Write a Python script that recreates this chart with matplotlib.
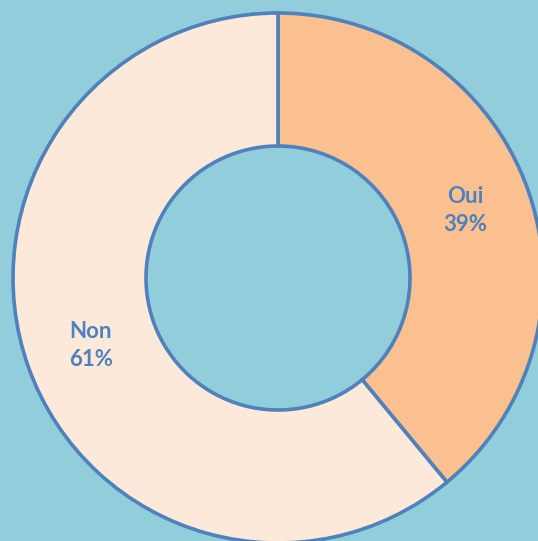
import matplotlib.pyplot as plt

# Data
categories = ['Oui', 'Non']
percentages = [39, 61]
colors = ['#FAC090', '#FDE9D9']

bg = '#92CDDC'
edge = '#4F81BD'

fig = plt.figure(figsize=(5.38, 5.41), dpi=100, facecolor=bg)
ax = fig.add_axes([0, 0, 1, 1])
ax.set_facecolor(bg)

# donut, drawn in pixel units
wedges, texts, autotexts = ax.pie(
    percentages,
    colors=colors,
    startangle=90,
    counterclock=False,
    center=(278, 263),
    radius=265,
    autopct='%1.0f%%',
    pctdistance=0.75,
    wedgeprops=dict(width=133, edgecolor=edge, linewidth=2.6),
    textprops=dict(color=edge, fontsize=16, fontweight='bold', family='Lato'),
    frame=True,
)

for cat, pct, t in zip(categories, percentages, autotexts):
    t.set_text(f'{cat}\n{pct}%')
    t.set_linespacing(1.4)

ax.set_xlim(0, 538)
ax.set_ylim(0, 541)
ax.set_aspect('equal')
ax.axis('off')

plt.savefig('out.png', dpi=100, facecolor=bg)
